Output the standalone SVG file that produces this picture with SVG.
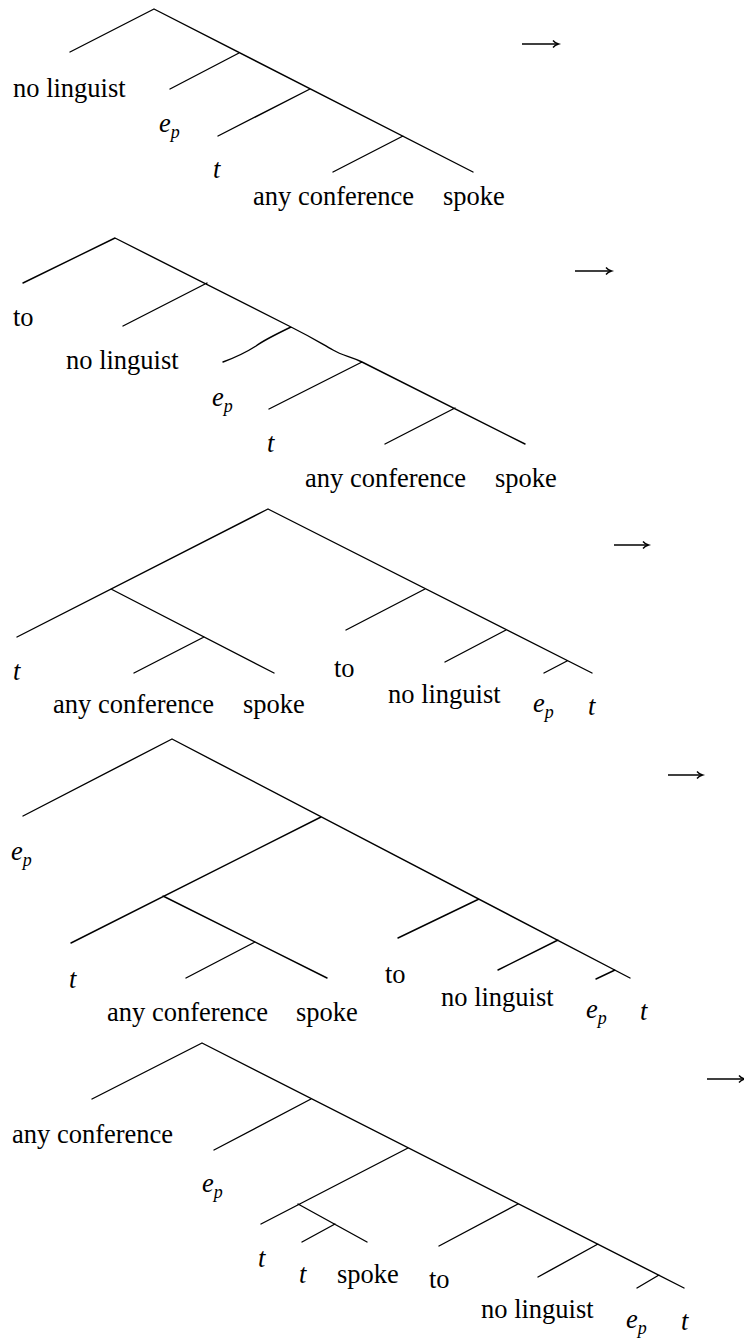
<svg xmlns="http://www.w3.org/2000/svg" width="744" height="1342" viewBox="0 0 744 1342">
<style>
.e{fill:none;stroke:#000;stroke-width:1.4;stroke-linecap:round;stroke-linejoin:round}
.a{fill:none;stroke:#000;stroke-width:1.6}
.l{font-family:"Liberation Serif","Times New Roman",serif;font-size:26.5px;fill:#000}
.i{font-style:italic}
.s{font-size:18px;font-style:italic}
</style>
<defs>
<marker id="ah" markerWidth="10" markerHeight="10" refX="6" refY="5" orient="auto" markerUnits="userSpaceOnUse">
<path d="M1,1.5 Q3,4 6.5,5 Q3,6 1,8.5" fill="none" stroke="#000" stroke-width="1.4"/>
</marker>
</defs>
<rect width="744" height="1342" fill="#fff"/>

<g id="tree1">
<g id="tree1-connectors">
<path class="e" d="M154,9 L70,52 M154,9 L473,172 M239,53 L170,89 M310,89 L218,136 M403,136 L333,172"/>
<path class="a" d="M522,44 L558,44" marker-end="url(#ah)"/>
</g>
<g id="t1-noling"><text class="l" x="13" y="97">no linguist</text></g>
<g id="t1-ep"><text class="l i" x="159" y="132">e<tspan class="s" dy="6">p</tspan></text></g>
<g id="t1-t"><text class="l i" x="213" y="178">t</text></g>
<g id="t1-anyconf"><text class="l" x="253" y="205">any conference</text></g>
<g id="t1-spoke"><text class="l" x="443" y="205">spoke</text></g>
</g>

<g id="tree2">
<g id="tree2-connectors">
<path class="e" d="M115,238 L23,283 M115,238 L291,327 C313,338 322,344 333,350 C343,356 350,356 362,362 L525,444 M207,283 L123,326 M291,327 Q264,340 256,346 Q242,355 223,362 M362,362 L269,409 M455,408 L385,444"/>
<path class="a" d="M575,271 L611,271" marker-end="url(#ah)"/>
</g>
<g id="t2-to"><text class="l" x="13" y="326">to</text></g>
<g id="t2-noling"><text class="l" x="66" y="369">no linguist</text></g>
<g id="t2-ep"><text class="l i" x="212" y="406">e<tspan class="s" dy="6">p</tspan></text></g>
<g id="t2-t"><text class="l i" x="267" y="452">t</text></g>
<g id="t2-anyconf"><text class="l" x="305" y="487">any conference</text></g>
<g id="t2-spoke"><text class="l" x="495" y="487">spoke</text></g>
</g>

<g id="tree3">
<g id="tree3-connectors">
<path class="e" d="M268,509 L17,637 M111,589 L274,673 M204,637 L134,673 M268,509 L592,673 M425,589 L346,630 M506,630 L445,662 M567,661 L544,673"/>
<path class="a" d="M614,545 L648,545" marker-end="url(#ah)"/>
</g>
<g id="t3-t1"><text class="l i" x="13" y="680">t</text></g>
<g id="t3-anyconf"><text class="l" x="53" y="713">any conference</text></g>
<g id="t3-spoke"><text class="l" x="243" y="713">spoke</text></g>
<g id="t3-to"><text class="l" x="334" y="677">to</text></g>
<g id="t3-noling"><text class="l" x="388" y="703">no linguist</text></g>
<g id="t3-ep"><text class="l i" x="533" y="712">e<tspan class="s" dy="6">p</tspan></text></g>
<g id="t3-t2"><text class="l i" x="588" y="715">t</text></g>
</g>

<g id="tree4">
<g id="tree4-connectors">
<path class="e" d="M172,739 L23,816 M172,739 L630,978 M321,817 L71,943 M163,896 L327,978 M255,942 L186,978 M479,899 L398,938 M558,940 L498,970 M615,970 L596,979"/>
<path class="a" d="M668,775 L702,775" marker-end="url(#ah)"/>
</g>
<g id="t4-ep1"><text class="l i" x="11" y="860">e<tspan class="s" dy="6">p</tspan></text></g>
<g id="t4-t1"><text class="l i" x="69" y="988">t</text></g>
<g id="t4-anyconf"><text class="l" x="107" y="1021">any conference</text></g>
<g id="t4-spoke"><text class="l" x="296" y="1021">spoke</text></g>
<g id="t4-to"><text class="l" x="385" y="983">to</text></g>
<g id="t4-noling"><text class="l" x="441" y="1006">no linguist</text></g>
<g id="t4-ep2"><text class="l i" x="586" y="1018">e<tspan class="s" dy="6">p</tspan></text></g>
<g id="t4-t2"><text class="l i" x="640" y="1020">t</text></g>
</g>

<g id="tree5">
<g id="tree5-connectors">
<path class="e" d="M202,1043 L92,1099 M202,1043 L684,1288 M311,1099 L214,1150 M408,1148 L261,1224 M298,1204 L367,1242 M335,1224 L302,1242 M518,1204 L439,1246 M598,1244 L538,1277 M659,1275 L637,1288"/>
<path class="a" d="M707,1079 L744,1079" marker-end="url(#ah)"/>
</g>
<g id="t5-anyconf1"><text class="l" x="12" y="1143">any conference</text></g>
<g id="t5-ep1"><text class="l i" x="202" y="1192">e<tspan class="s" dy="6">p</tspan></text></g>
<g id="t5-t1"><text class="l i" x="258" y="1267">t</text></g>
<g id="t5-t2"><text class="l i" x="299" y="1283">t</text></g>
<g id="t5-spoke"><text class="l" x="337" y="1283">spoke</text></g>
<g id="t5-to"><text class="l" x="429" y="1288">to</text></g>
<g id="t5-noling"><text class="l" x="481" y="1318">no linguist</text></g>
<g id="t5-ep2"><text class="l i" x="626" y="1328">e<tspan class="s" dy="6">p</tspan></text></g>
<g id="t5-t3"><text class="l i" x="681" y="1330">t</text></g>
</g>
</svg>
